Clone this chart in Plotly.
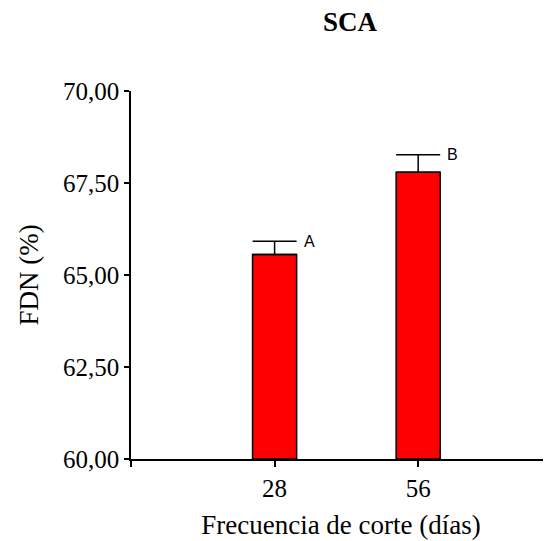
import plotly.graph_objects as go

# data
frecuencia = [28, 56]
fdn_media = [65.56, 67.79]
fdn_error = [0.36, 0.48]
letras = ["A", "B"]

y_ticks = [60, 62.5, 65, 67.5, 70]
y_tick_text = ["60,00", "62,50", "65,00", "67,50", "70,00"]

serif = "Liberation Serif"
base = 60

fig = go.Figure()

fig.add_trace(go.Bar(
    x=frecuencia,
    y=[v - base for v in fdn_media],
    base=base,
    width=8.6,
    marker=dict(color="#ff0000", line=dict(color="black", width=1.5)),
    error_y=dict(
        type="data",
        symmetric=False,
        array=fdn_error,
        arrayminus=[0, 0],
        color="black",
        thickness=1.5,
        width=22,
    ),
    showlegend=False,
))

for xv, yv, err, txt in zip(frecuencia, fdn_media, fdn_error, letras):
    fig.add_annotation(
        x=xv, y=yv + err, text=txt,
        xanchor="left", yanchor="middle",
        xshift=27, yshift=0,
        showarrow=False,
        font=dict(family="Liberation Sans", size=16, color="black"),
    )

# page body adds 8px around the plot div
fig.update_layout(
    width=543,
    height=533,
    paper_bgcolor="white",
    plot_bgcolor="white",
    margin=dict(l=123, r=0, t=83, b=82),
    title=dict(
        text="<b>SCA</b>",
        x=0.63, xanchor="center",
        y=0.975, yanchor="middle",
        font=dict(family=serif, size=27, color="black"),
    ),
    font=dict(family=serif, color="black"),
)

fig.update_xaxes(
    range=[0, 81.9],
    tickvals=[0, 28, 56],
    ticktext=["", "28", "56"],
    ticks="outside",
    ticklen=6,
    tickwidth=1.5,
    tickcolor="black",
    showline=True,
    linecolor="black",
    linewidth=1.5,
    showgrid=False,
    zeroline=False,
    automargin=False,
    tickfont=dict(family=serif, size=25, color="black"),
    title=dict(text="Frecuencia de corte (días)",
               font=dict(family=serif, size=27, color="black"),
               standoff=14),
)

fig.update_yaxes(
    range=[60, 70],
    tickvals=y_ticks,
    ticktext=y_tick_text,
    ticks="outside",
    ticklen=5,
    tickwidth=1.5,
    tickcolor="black",
    showline=True,
    linecolor="black",
    linewidth=1.5,
    showgrid=False,
    zeroline=False,
    automargin=False,
    tickfont=dict(family=serif, size=25, color="black"),
    title=dict(text="FDN (%)",
               font=dict(family=serif, size=27, color="black"),
               standoff=17),
)

fig.write_html("out.html")
